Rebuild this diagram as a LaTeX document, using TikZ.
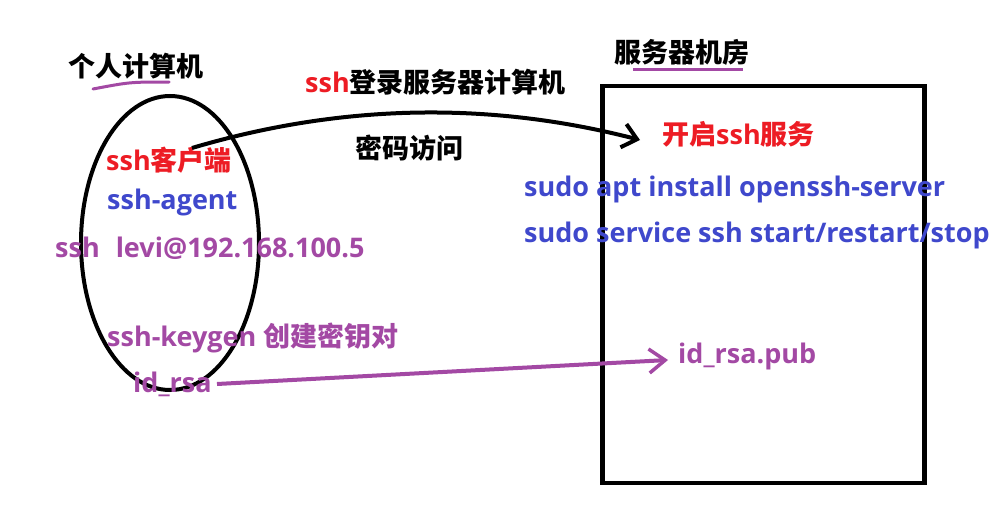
\documentclass[tikz,border=0pt]{standalone}
\usepackage{fontspec}
\setmainfont{Open Sans}[BoldFont={Open Sans Bold}]
\newfontfamily\cjk{Noto Sans CJK SC Bold}
\usetikzlibrary{arrows.meta}
\definecolor{pred}{HTML}{ED1C24}
\definecolor{pblue}{HTML}{3F48CC}
\definecolor{ppurple}{HTML}{A349A4}
\tikzset{
  lbl/.style={inner sep=0pt, anchor=west, font=\fontsize{27}{31}\selectfont\bfseries},
  ttl/.style={lbl, text=black},
  thick4/.style={line width=4pt},
}
\begin{document}
\begin{tikzpicture}[x=1pt,y=-1pt]
\useasboundingbox[fill=white] (0,0) rectangle (997,530);
% left side
\node[ttl] (pc) at (68,66) {\cjk 个人计算机};
\draw[ppurple, line width=3pt, line cap=round] (93,89) .. controls (130,82) .. (169,82);
\draw[thick4] (170,243) ellipse [x radius=89, y radius=147];
\node[lbl, text=pred] (client) at (106,160) {ssh{\cjk 客户端}};
\node[lbl, text=pblue] (agent) at (107,202) {ssh-agent};
\node[lbl, text=ppurple] (login) at (55,248) {ssh\hspace{16pt}levi@192.168.100.5};
\node[lbl, text=ppurple] (keygen) at (107,338) {ssh-keygen {\cjk 创建密钥对}};
\node[lbl, text=ppurple] (idrsa) at (133,384) {id\_rsa};
% middle labels
\node[lbl] (sshlogin) at (305,82) {\textcolor{pred}{ssh}{\cjk 登录服务器计算机}};
\node[lbl] (pwd) at (355,148) {\cjk 密码访问};
% right side
\node[ttl] (room) at (614,52) {\cjk 服务器机房};
\draw[ppurple, line width=3pt] (633,69) -- (743,69);
\node[draw, line width=4.5pt, minimum width=322pt, minimum height=397pt, inner sep=0pt] (box) at (763.5,284.5) {};
\node[lbl, text=pred] (start) at (662,134) {{\cjk 开启}ssh{\cjk 服务}};
\node[lbl, text=pblue] (apt) at (524,189) {sudo apt install openssh-server};
\node[lbl, text=pblue] (svc) at (524,235) {sudo service ssh start/restart/stop};
\node[lbl, text=ppurple] (pub) at (678,356) {id\_rsa.pub};
% connectors
\coordinate (c1) at (192,148);
\coordinate (c2) at (640,140);
\draw[thick4, -{Straight Barb[length=14pt,width=24pt,line width=4pt]}] (c1) .. controls (320,110) and (470,96) .. (c2);
\coordinate (p1) at (217,384);
\coordinate (p2) at (668,360);
\draw[ppurple, thick4, -{Straight Barb[length=16pt,width=24pt,line width=3.5pt]}] (p1) -- (p2);
\end{tikzpicture}
\end{document}
